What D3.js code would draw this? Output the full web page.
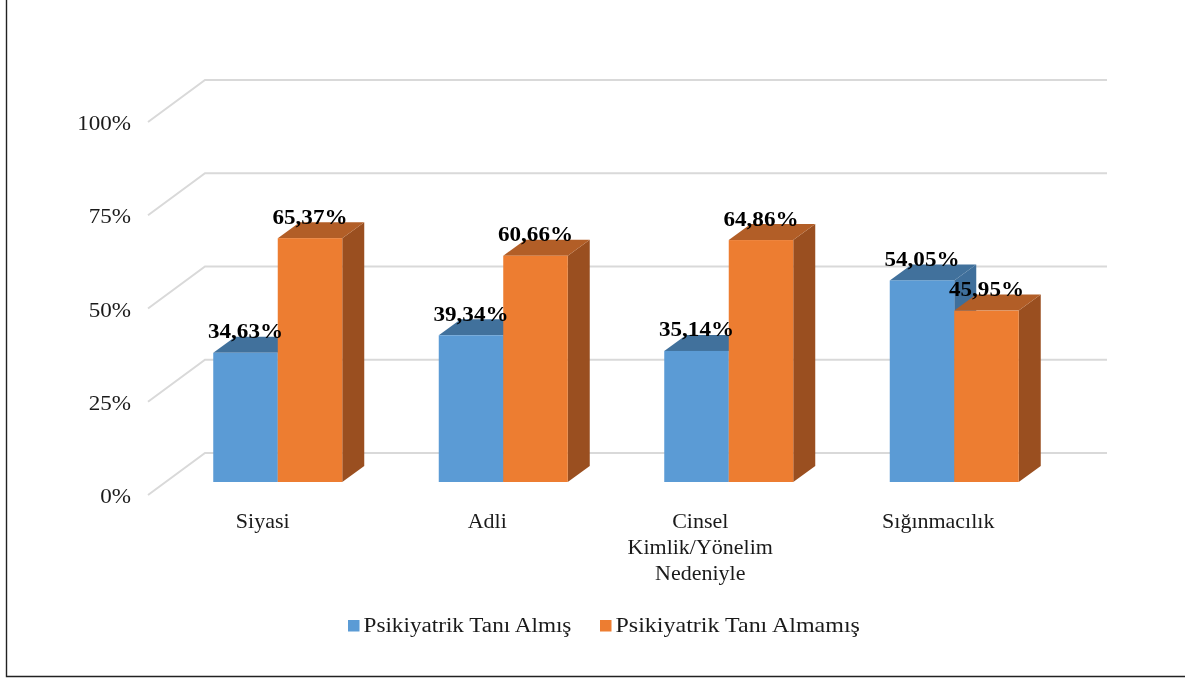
<!DOCTYPE html>
<html><head><meta charset="utf-8">
<script src="https://cdn.jsdelivr.net/npm/d3@7/dist/d3.min.js"></script>
<style>html,body{margin:0;padding:0;background:#fff}svg{display:block;filter:blur(0.45px)}text{font-family:"Liberation Serif",serif}</style>
</head><body><svg id="c" width="1185" height="678"></svg>
<script>
const categories = [["Siyasi"],["Adli"],["Cinsel","Kimlik/Yönelim","Nedeniyle"],["Sığınmacılık"]];
const catKeys = ["Siyasi","Adli","Cinsel","Sığınmacılık"];
const seriesNames = ["Psikiyatrik Tanı Almış","Psikiyatrik Tanı Almamış"];
const almis = [34.63,39.34,35.14,54.05];
const almamis = [65.37,60.66,64.86,45.95];
const ticks = [0,25,50,75,100];
const labelNudge = [-15,-16,-28.5,-16];
const colors = {front:["#5B9BD5","#ED7D31"],top:["#41719C","#B25E27"],side:["#3F6F9B","#9A4F20"]};

const svg = d3.select("#c");
const stretch = 1.1;
const y = d3.scaleLinear().domain([0,100]).range([495,122]);
const depth = {dx:57, dy:42};
const barInset = {dx:17, dy:13};
const barDepth = {dx:22, dy:16};
const x = d3.scaleBand().domain(catKeys).range([148+barInset.dx,1050+barInset.dx]);
const inner = d3.scaleBand().domain([0,1]).range([0,129]);
const bandPad = (x.bandwidth()-129)/2;

svg.append("path").attr("d","M6.5,0V676.5H1185").attr("fill","none").attr("stroke","#222").attr("stroke-width",1.4);

const grid = svg.append("g").attr("fill","none").attr("stroke","#D9D9D9").attr("stroke-width",2);
ticks.forEach(t=>{
  grid.append("path").attr("d",d3.line()([[148,y(t)],[148+depth.dx,y(t)-depth.dy],[1107,y(t)-depth.dy]]));
});
svg.append("g").selectAll("text").data(ticks).join("text")
  .attr("transform",d=>`translate(131,${y(d)+8}) scale(${stretch},1)`)
  .attr("text-anchor","end").attr("font-size",21).attr("fill","#1a1a1a").text(d=>d+"%");

const rows = catKeys.map((c,i)=>[{c,s:0,v:almis[i]},{c,s:1,v:almamis[i]}]);
const yBar = v=>y(v)-barInset.dy;
const g = svg.append("g");
rows.flat().forEach(d=>{
  const x0 = x(d.c)+bandPad+inner(d.s), x1 = x0+inner.bandwidth(), t=yBar(d.v), b=yBar(0);
  const dx=barDepth.dx, dy=barDepth.dy;
  g.append("path").attr("fill",colors.side[d.s]).attr("d",`M${x1},${t}L${x1+dx},${t-dy}V${b-dy}L${x1},${b}Z`);
  g.append("path").attr("fill",colors.top[d.s]).attr("d",`M${x0},${t}L${x0+dx},${t-dy}H${x1+dx}L${x1},${t}Z`);
  g.append("rect").attr("fill",colors.front[d.s]).attr("x",x0).attr("y",t).attr("width",x1-x0).attr("height",b-t);
});
svg.append("g").selectAll("text").data(rows.flat()).join("text")
  .attr("transform",d=>`translate(${x(d.c)+bandPad+inner(d.s)+inner.bandwidth()/2},${yBar(d.v)-14.5}) scale(${stretch},1)`)
  .attr("text-anchor","middle").attr("font-size",21).attr("font-weight","bold").attr("fill","#000")
  .text(d=>d.v.toFixed(2).replace(".",",")+"%");

categories.forEach((lines,i)=>{
  const cx = x(catKeys[i])+x.bandwidth()/2+labelNudge[i];
  lines.forEach((l,j)=>{
    svg.append("text").attr("transform",`translate(${cx},${528+j*26}) scale(${stretch},1)`)
      .attr("text-anchor","middle").attr("font-size",20).attr("fill","#1a1a1a").text(l);
  });
});

const legendX = [348,600];
const legendStretch = [1.16,1.2];
seriesNames.forEach((n,i)=>{
  svg.append("rect").attr("x",legendX[i]).attr("y",620).attr("width",11.5).attr("height",11.5).attr("fill",colors.front[i]);
  svg.append("text").attr("transform",`translate(${legendX[i]+15.5},632) scale(${legendStretch[i]},1)`)
    .attr("font-size",20).attr("fill","#1a1a1a").text(n);
});
</script></body></html>
